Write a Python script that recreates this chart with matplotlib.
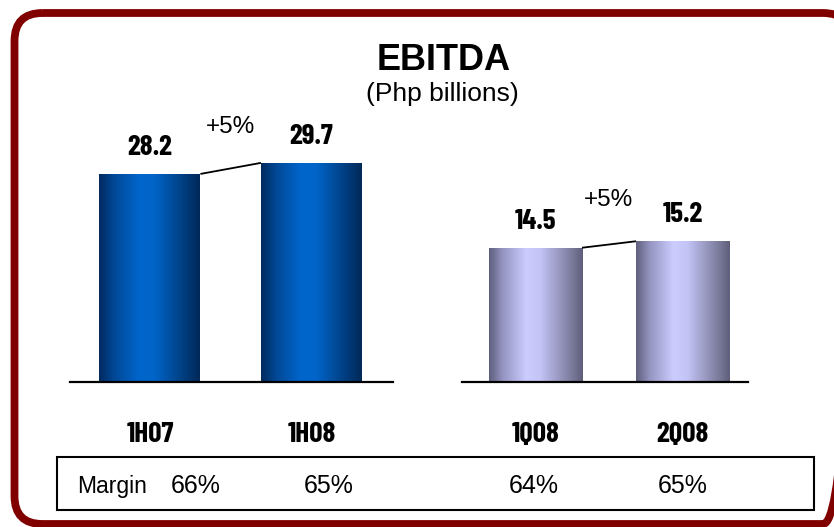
import numpy as np
import matplotlib
matplotlib.use("Agg")
import matplotlib.pyplot as plt
from matplotlib import font_manager
from matplotlib.patches import FancyBboxPatch, Rectangle


# data
half_labels = ["1H07", "1H08"]
half_values = [28.2, 29.7]
quarter_labels = ["1Q08", "2Q08"]
quarter_values = [14.5, 15.2]
growth_labels = ["+5%", "+5%"]
margin_label = "Margin"
margin_values = ["66%", "65%", "64%", "65%"]

title = "EBITDA"
subtitle = "(Php billions)"

W, H = 834, 527

bold_fonts = {f.name for f in font_manager.fontManager.ttflist
              if f.style == "normal" and isinstance(f.weight, int) and f.weight >= 700}


def pick_bold(*names):
    return next((n for n in names if n in bold_fonts), "Liberation Sans")


NARROW = [pick_bold("Liberation Sans Narrow", "Oswald", "Barlow Condensed", "Roboto Condensed"), "DejaVu Sans"]
REGULAR = ["Liberation Sans", "DejaVu Sans"]

STOPS = [0, 0.15, 0.4, 0.55, 0.85, 1.0]
BLUE_COLS = [(0, 42, 95), (0, 72, 150), (0, 102, 204), (0, 100, 200), (0, 60, 125), (0, 40, 88)]
LAV_COLS = [(95, 95, 125), (150, 150, 195), (204, 204, 255), (195, 195, 245), (130, 130, 165), (95, 95, 122)]


def gradient(stops, cols, n=256):
    t = np.linspace(0, 1, n)
    cols = np.array(cols) / 255.0
    rgb = np.stack([np.interp(t, stops, cols[:, k]) for k in range(3)], axis=-1)
    return rgb[np.newaxis, :, :]


def px_axes(fig, x0, x1, y_top, y_base):
    # axes placed by pixel edges (y measured from top of image)
    return fig.add_axes([x0 / W, (H - y_base) / H, (x1 - x0) / W, (y_base - y_top) / H])


def draw_pair(ax, labels, values, ymax, xlim, width, cols, growth, growth_off):
    x = np.arange(len(values))
    bars = ax.bar(x, values, width=width, color="none", edgecolor="none", zorder=2)
    img = gradient(STOPS, cols)
    for b in bars:
        im = ax.imshow(img, extent=[b.get_x(), b.get_x() + b.get_width(), 0, b.get_height()],
                       aspect="auto", zorder=2, interpolation="bilinear")
        im.set_clip_path(b)
    # connector between the bar tops
    b0, b1 = bars[0], bars[1]
    ax.plot([b0.get_x() + b0.get_width(), b1.get_x()], [values[0], values[1]],
            color="black", lw=1.3, zorder=3, solid_capstyle="butt")
    for xi, v in zip(x, values):
        ax.annotate(f"{v:.1f}", (xi, v), xytext=(0, 13.7), textcoords="offset points",
                    ha="center", va="baseline", fontsize=21, fontweight="bold", family=NARROW)
        ax.annotate(labels[xi], (xi, 0), xytext=(0, -43.2), textcoords="offset points",
                    ha="center", va="baseline", fontsize=21, fontweight="bold", family=NARROW,
                    annotation_clip=False)
    ax.annotate(growth, (0.5, max(values)), xytext=(0, growth_off), textcoords="offset points",
                ha="center", va="baseline", fontsize=17.5, family=REGULAR)
    ax.set_xlim(*xlim)
    ax.set_ylim(0, ymax)
    ax.patch.set_visible(False)
    for s in ["top", "left", "right"]:
        ax.spines[s].set_visible(False)
    ax.spines["bottom"].set_linewidth(1.6)
    ax.set_xticks([])
    ax.set_yticks([])


fig = plt.figure(figsize=(W / 100, H / 100), dpi=100)

# canvas in pixel coordinates for frame, titles and margin table
canvas = fig.add_axes([0, 0, 1, 1])
canvas.set_xlim(0, W)
canvas.set_ylim(H, 0)
canvas.axis("off")
canvas.add_patch(FancyBboxPatch((14.5, 13), 851 - 14.5, 524 - 13,
                                boxstyle="round,pad=0,rounding_size=28",
                                lw=5.6, ec="#800000", fc="none"))
canvas.text(444, 70, title, ha="center", va="baseline", fontsize=26, fontweight="bold", family=REGULAR)
canvas.text(442, 101, subtitle, ha="center", va="baseline", fontsize=19, family=REGULAR)

canvas.add_patch(Rectangle((57, 457), 814 - 57, 510 - 457, fill=False, ec="black", lw=1.5))
canvas.text(112, 493, margin_label, ha="center", va="baseline", fontsize=16.5, family=REGULAR)
for xm, m in zip([196, 329, 534, 683], margin_values):
    canvas.text(xm, 493, m, ha="center", va="baseline", fontsize=18, family=REGULAR)

# left chart (half years)
ax1 = px_axes(fig, 70, 393, 102, 382)
draw_pair(ax1, half_labels, half_values, 37.95, (-0.495, 1.505), 0.625,
          BLUE_COLS, growth_labels[0], 21.6)

# right chart (quarters)
ax2 = px_axes(fig, 462, 748, 102, 382)
draw_pair(ax2, quarter_labels, quarter_values, 30.24, (-0.5, 1.446), 0.633,
          LAV_COLS, growth_labels[1], 25.2)

fig.savefig("out.png", dpi=100)
